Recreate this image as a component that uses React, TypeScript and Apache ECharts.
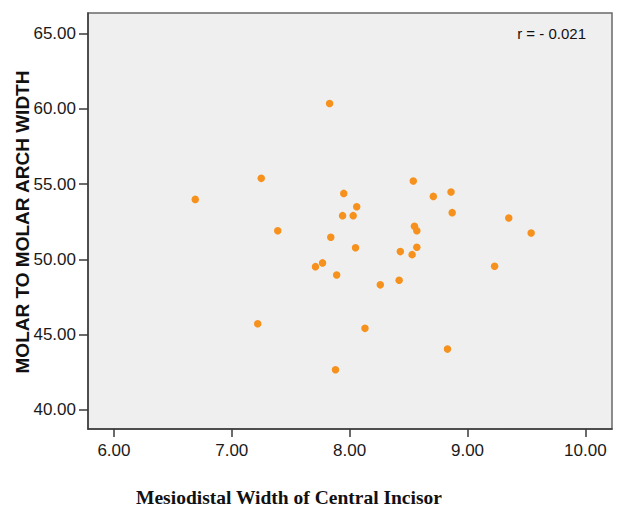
import React, { useEffect, useRef } from "react";
import * as echarts from "echarts";

const incisorWidth: number[] = [
  6.69, 7.83, 7.25, 7.39, 7.22, 7.95, 8.06, 7.94, 8.03, 7.84, 8.05, 7.71, 7.77, 7.89,
  8.54, 8.71, 8.86, 8.87, 9.35, 8.55, 8.57, 9.54, 8.57, 8.43, 8.53, 8.26, 8.42, 9.23,
  8.13, 8.83, 7.88,
];
const archWidth: number[] = [
  53.98, 60.36, 55.38, 51.9, 45.71, 54.38, 53.49, 52.9, 52.9, 51.46, 50.77, 49.51, 49.76, 48.96,
  55.2, 54.18, 54.47, 53.1, 52.74, 52.19, 51.9, 51.75, 50.8, 50.51, 50.31, 48.3, 48.61, 49.54,
  45.41, 44.03, 42.66,
];
const xTicks: number[] = [6, 7, 8, 9, 10];
const yTicks: number[] = [40, 45, 50, 55, 60, 65];
const xTitle = "Mesiodistal Width of Central Incisor";
const yTitle = "MOLAR TO MOLAR ARCH WIDTH";
const rLabel = "r = - 0.021";

export default function App() {
  const ref = useRef<HTMLDivElement>(null);
  useEffect(() => {
    if (!ref.current) return;
    const chart = echarts.init(ref.current, null, { renderer: "svg" });
    const sans = "'Liberation Sans', Arial, Helvetica, sans-serif";
    chart.setOption({
      animation: false,
      backgroundColor: "#ffffff",
      grid: {
        left: 88,
        right: 11,
        top: 13,
        bottom: 83,
        show: true,
        backgroundColor: "#efefef",
        borderColor: "#6a6a6a",
        borderWidth: 1.5,
      },
      xAxis: {
        type: "value",
        min: 5.78,
        max: 10.226,
        splitLine: { show: false },
        axisLine: { show: true, onZero: false, lineStyle: { color: "#3a3a3a", width: 1.5 } },
        axisTick: { show: true, customValues: xTicks, length: 8, lineStyle: { color: "#3a3a3a", width: 1.5 } },
        axisLabel: {
          customValues: xTicks,
          formatter: (v: number) => v.toFixed(2),
          fontFamily: sans,
          fontSize: 17,
          color: "#1a1a1a",
          margin: 13,
        },
      },
      yAxis: {
        type: "value",
        min: 38.72,
        max: 66.37,
        splitLine: { show: false },
        axisLine: { show: true, onZero: false, lineStyle: { color: "#3a3a3a", width: 1.5 } },
        axisTick: { show: true, customValues: yTicks, length: 9, lineStyle: { color: "#3a3a3a", width: 1.5 } },
        axisLabel: {
          customValues: yTicks,
          formatter: (v: number) => v.toFixed(2),
          fontFamily: sans,
          fontSize: 17,
          color: "#1a1a1a",
          margin: 12,
        },
      },
      series: [
        {
          type: "scatter",
          data: incisorWidth.map((x, i) => [x, archWidth[i]]),
          symbolSize: 7.5,
          itemStyle: { color: "#f5911c", opacity: 1 },
        },
      ],
      graphic: [
        {
          type: "text",
          x: 586,
          y: 33,
          style: {
            text: rLabel,
            fontFamily: sans,
            fontSize: 15,
            fill: "#111",
            textAlign: "right",
            textVerticalAlign: "middle",
          },
        },
        {
          type: "text",
          x: 22,
          y: 222,
          rotation: Math.PI / 2,
          style: {
            text: yTitle,
            fontFamily: sans,
            fontWeight: "bold",
            fontSize: 19,
            fill: "#111",
            textAlign: "center",
            textVerticalAlign: "middle",
          },
        },
        {
          type: "text",
          x: 289,
          y: 497,
          style: {
            text: xTitle,
            fontFamily: "'Liberation Serif', 'Times New Roman', serif",
            fontWeight: "bold",
            fontSize: 19.5,
            fill: "#111",
            textAlign: "center",
            textVerticalAlign: "middle",
          },
        },
      ],
    });
    return () => chart.dispose();
  }, []);
  return (
    <div
      ref={ref}
      style={{ position: "fixed", left: 0, top: 0, width: "623px", height: "512px", background: "#fff" }}
    />
  );
}
